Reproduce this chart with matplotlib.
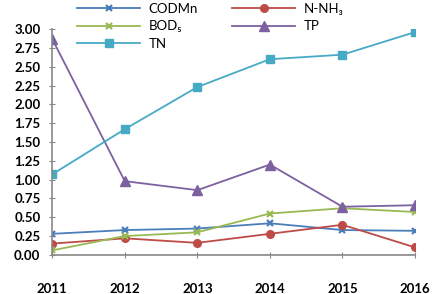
import matplotlib.pyplot as plt

plt.rcParams['font.family'] = ['Lato', 'DejaVu Sans']

years = ['2011', '2012', '2013', '2014', '2015', '2016']
codmn = [0.28, 0.33, 0.35, 0.42, 0.33, 0.32]
nnh3 = [0.15, 0.22, 0.16, 0.28, 0.40, 0.10]
bod5 = [0.06, 0.25, 0.30, 0.55, 0.62, 0.57]
tp = [2.87, 0.98, 0.86, 1.20, 0.64, 0.66]
tn = [1.07, 1.67, 2.23, 2.60, 2.66, 2.96]

fig = plt.figure(figsize=(4.35, 2.94), dpi=100)
ax = fig.add_axes([0.12, 0.133, 0.834, 0.768])

x = range(len(years))
l1, = ax.plot(x, codmn, color='#4A7EBB', marker='x', ms=4.5, mew=1.6, lw=1.3, label='CODMn')
l2, = ax.plot(x, nnh3, color='#BE4B48', marker='o', ms=5.5, lw=1.3, label='N-NH\u2083')
l3, = ax.plot(x, bod5, color='#98B954', marker='x', ms=4.5, mew=1.6, lw=1.3, label='BOD\u2085')
l4, = ax.plot(x, tp, color='#7D60A0', marker='^', ms=6.5, lw=1.3, label='TP')
l5, = ax.plot(x, tn, color='#46AAC5', marker='s', ms=5.5, lw=1.3, label='TN')

ax.set_xlim(0, len(years) - 1)
ax.set_ylim(0, 3.0)
ax.set_xticks(list(x))
ax.set_xticklabels(years)
ax.set_yticks([i * 0.25 for i in range(13)])
ax.set_yticklabels(['%.2f' % (i * 0.25) for i in range(13)])

for s in ['top', 'right']:
    ax.spines[s].set_visible(False)
for s in ['left', 'bottom']:
    ax.spines[s].set_color('#888888')
    ax.spines[s].set_linewidth(1.2)
ax.tick_params(axis='y', direction='inout', length=5, color='#888888', labelsize=9.5, pad=6)
ax.tick_params(axis='x', direction='inout', length=5, color='#888888', labelsize=9.5, pad=18)
for t in ax.get_xticklabels() + ax.get_yticklabels():
    t.set_fontweight('bold')

fig.legend(handles=[l1, l3, l5, l2, l4], ncol=2, frameon=False,
           loc='upper left', bbox_to_anchor=(0.15, 1.03), fontsize=9.5,
           handlelength=4.8, handletextpad=0.6, columnspacing=2.6, labelspacing=0.4)

plt.savefig('out.png', dpi=100)
